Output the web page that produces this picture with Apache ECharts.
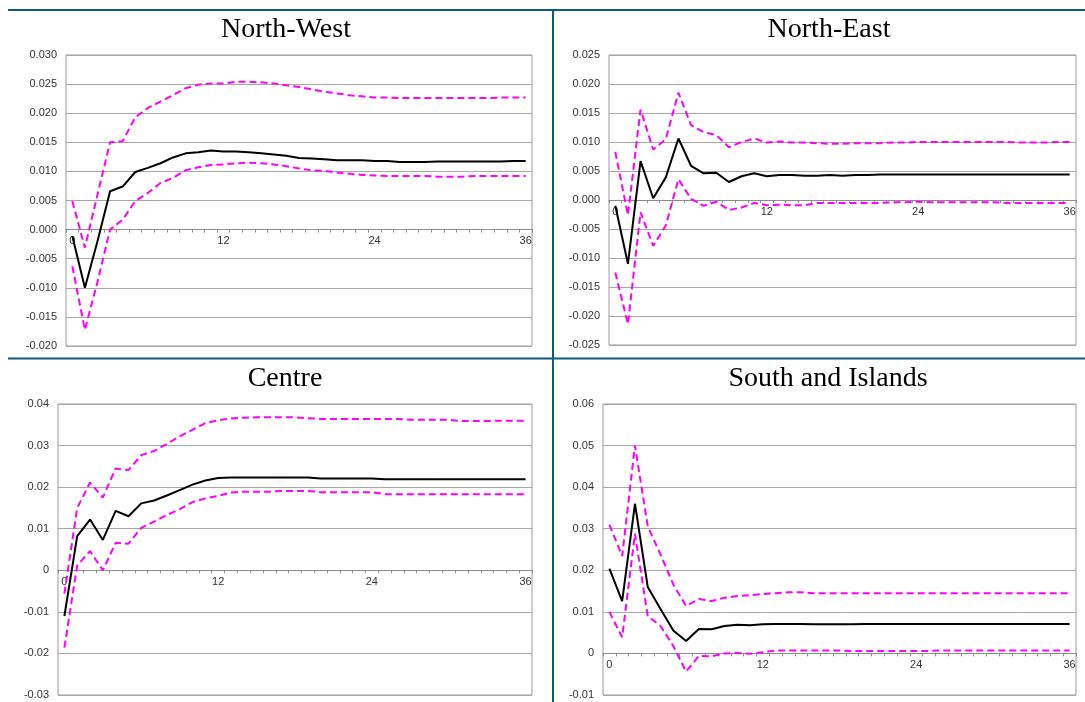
<!DOCTYPE html>
<html>
<head>
<meta charset="utf-8">
<script src="https://cdn.jsdelivr.net/npm/echarts@6/dist/echarts.min.js"></script>
<style>
html,body{margin:0;padding:0;background:#fff;}
#chart{width:1085px;height:702px;}
</style>
</head>
<body>
<div id="chart"></div>
<script>
// Horizon (months) categories
const horizons = ['0','1','2','3','4','5','6','7','8','9','10','11','12','13','14','15','16','17','18','19','20','21','22','23','24','25','26','27','28','29','30','31','32','33','34','35','36'];

const panelTitles = ['North-West', 'North-East', 'Centre', 'South and Islands'];

// North-West
const nwIrf   = [-0.0011,-0.0100,-0.0020,0.0066,0.0074,0.0099,0.0106,0.0114,0.0124,0.0131,0.0133,0.0136,0.0134,0.0134,0.0133,0.0131,0.0129,0.0127,0.0123,0.0122,0.0121,0.0119,0.0119,0.0119,0.0118,0.0118,0.0116,0.0116,0.0116,0.0117,0.0117,0.0117,0.0117,0.0117,0.0117,0.0118,0.0118];
const nwUpper = [0.0049,-0.0031,0.0060,0.0150,0.0152,0.0193,0.0209,0.0220,0.0231,0.0243,0.0249,0.0251,0.0251,0.0254,0.0254,0.0253,0.0251,0.0248,0.0245,0.0241,0.0237,0.0234,0.0231,0.0229,0.0227,0.0227,0.0226,0.0226,0.0226,0.0226,0.0226,0.0226,0.0226,0.0226,0.0227,0.0227,0.0227];
const nwLower = [-0.0063,-0.0172,-0.0090,0.0000,0.0017,0.0049,0.0063,0.0080,0.0089,0.0102,0.0107,0.0111,0.0112,0.0114,0.0115,0.0114,0.0112,0.0109,0.0105,0.0102,0.0101,0.0098,0.0096,0.0094,0.0093,0.0092,0.0092,0.0092,0.0092,0.0091,0.0091,0.0091,0.0092,0.0092,0.0092,0.0092,0.0092];

// North-East
const neIrf   = [-0.0010,-0.0110,0.0067,0.0003,0.0039,0.0106,0.0059,0.0046,0.0047,0.0031,0.0041,0.0046,0.0041,0.0043,0.0043,0.0042,0.0042,0.0043,0.0042,0.0043,0.0043,0.0044,0.0044,0.0044,0.0044,0.0044,0.0044,0.0044,0.0044,0.0044,0.0044,0.0044,0.0044,0.0044,0.0044,0.0044,0.0044];
const neUpper = [0.0083,-0.0026,0.0156,0.0087,0.0105,0.0185,0.0129,0.0117,0.0112,0.0091,0.0100,0.0106,0.0099,0.0101,0.0099,0.0099,0.0098,0.0097,0.0097,0.0098,0.0098,0.0098,0.0099,0.0099,0.0100,0.0100,0.0100,0.0100,0.0100,0.0100,0.0100,0.0100,0.0099,0.0099,0.0099,0.0100,0.0100];
const neLower = [-0.0125,-0.0214,-0.0021,-0.0079,-0.0044,0.0036,0.0002,-0.0010,-0.0003,-0.0017,-0.0013,-0.0005,-0.0009,-0.0008,-0.0009,-0.0009,-0.0005,-0.0005,-0.0005,-0.0005,-0.0005,-0.0005,-0.0004,-0.0004,-0.0003,-0.0004,-0.0004,-0.0004,-0.0004,-0.0004,-0.0004,-0.0005,-0.0005,-0.0005,-0.0005,-0.0005,-0.0005];

// Centre
const ceIrf   = [-0.0110,0.0082,0.0122,0.0073,0.0143,0.0130,0.0161,0.0168,0.0180,0.0193,0.0206,0.0216,0.0222,0.0223,0.0223,0.0223,0.0223,0.0223,0.0223,0.0223,0.0221,0.0221,0.0221,0.0221,0.0221,0.0219,0.0219,0.0219,0.0219,0.0219,0.0219,0.0219,0.0219,0.0219,0.0219,0.0219,0.0219];
const ceUpper = [-0.0056,0.0150,0.0211,0.0175,0.0245,0.0241,0.0277,0.0287,0.0304,0.0322,0.0338,0.0354,0.0361,0.0365,0.0367,0.0368,0.0368,0.0368,0.0368,0.0366,0.0364,0.0364,0.0364,0.0364,0.0364,0.0364,0.0364,0.0362,0.0362,0.0362,0.0362,0.0359,0.0359,0.0359,0.0360,0.0360,0.0360];
const ceLower = [-0.0186,0.0012,0.0046,0.0000,0.0066,0.0064,0.0102,0.0117,0.0133,0.0147,0.0164,0.0173,0.0179,0.0187,0.0189,0.0189,0.0189,0.0191,0.0191,0.0191,0.0188,0.0188,0.0188,0.0188,0.0188,0.0183,0.0183,0.0183,0.0183,0.0183,0.0183,0.0183,0.0183,0.0183,0.0183,0.0183,0.0183];

// South and Islands
const siIrf   = [0.0204,0.0126,0.0360,0.0160,0.0107,0.0055,0.0030,0.0059,0.0058,0.0066,0.0069,0.0068,0.0070,0.0071,0.0071,0.0071,0.0070,0.0070,0.0070,0.0070,0.0071,0.0071,0.0071,0.0071,0.0071,0.0071,0.0071,0.0071,0.0071,0.0071,0.0071,0.0071,0.0071,0.0071,0.0071,0.0071,0.0071];
const siUpper = [0.0310,0.0234,0.0500,0.0306,0.0238,0.0166,0.0114,0.0131,0.0126,0.0134,0.0138,0.0140,0.0143,0.0145,0.0147,0.0147,0.0145,0.0145,0.0145,0.0145,0.0145,0.0145,0.0145,0.0145,0.0145,0.0145,0.0145,0.0145,0.0145,0.0145,0.0145,0.0145,0.0145,0.0145,0.0145,0.0145,0.0145];
const siLower = [0.0100,0.0039,0.0288,0.0090,0.0066,0.0018,-0.0044,-0.0006,-0.0007,0.0000,0.0001,-0.0001,0.0003,0.0007,0.0007,0.0007,0.0007,0.0007,0.0007,0.0006,0.0006,0.0006,0.0006,0.0006,0.0006,0.0006,0.0007,0.0007,0.0007,0.0007,0.0007,0.0007,0.0007,0.0007,0.0007,0.0007,0.0007];

// Y-axis scales per panel [min, max, interval]
const yScales = [[-0.020,0.030,0.005],[-0.025,0.025,0.005],[-0.03,0.04,0.01],[-0.01,0.06,0.01]];
const yDecimals = [3,3,2,2];

const panels = [
  [nwIrf, nwUpper, nwLower],
  [neIrf, neUpper, neLower],
  [ceIrf, ceUpper, ceLower],
  [siIrf, siUpper, siLower]
];

const gridBoxes = [
  {left:66, top:55, width:466, height:291},
  {left:609, top:55, width:467, height:290},
  {left:58, top:404, width:474, height:291},
  {left:603, top:404, width:473, height:291}
];
const titleCenters = [[281,11],[824,11],[280,360],[823,360]];

const chart = echarts.init(document.getElementById('chart'), null, {renderer:'canvas'});

const grids = [], xAxes = [], yAxes = [], series = [], titles = [];
panels.forEach((p, k) => {
  const g = gridBoxes[k];
  grids.push(Object.assign({show:true, borderColor:'#9a9a9a', borderWidth:1, backgroundColor:'#fff', containLabel:false}, g));
  titles.push({
    text: panelTitles[k], left: titleCenters[k][0], top: titleCenters[k][1], textAlign:'center',
    textStyle:{fontFamily:'Liberation Serif', fontSize:28, fontWeight:'normal', color:'#000'}
  });
  // place the category axis on the zero line of the value axis
  const zeroOffset = -g.height * (0 - yScales[k][0]) / (yScales[k][1] - yScales[k][0]);
  xAxes.push({
    type:'category', gridIndex:k, data:horizons, boundaryGap:true, position:'bottom', offset:zeroOffset,
    axisLine:{show:true, onZero:false, lineStyle:{color:'#8c8c8c', width:1}},
    axisTick:{show:true, interval:0, length:3, lineStyle:{color:'#8c8c8c'}},
    axisLabel:{interval:11, margin:6, fontFamily:'Liberation Sans', fontSize:11, color:'#333'},
    splitLine:{show:false}
  });
  const d = yDecimals[k];
  yAxes.push({
    type:'value', gridIndex:k, min:yScales[k][0], max:yScales[k][1], interval:yScales[k][2],
    axisLine:{show:false}, axisTick:{show:false},
    axisLabel:{margin:9, fontFamily:'Liberation Sans', fontSize:11, color:'#333',
      formatter: v => (d === 2 && Math.abs(v) < 1e-9) ? '0' : (Math.abs(v) < 1e-9 ? (0).toFixed(d) : v.toFixed(d))},
    splitLine:{show:true, lineStyle:{color:'#a6a6a6', width:1}}
  });
  const common = {type:'line', xAxisIndex:k, yAxisIndex:k, symbol:'none', smooth:false, silent:true};
  series.push(Object.assign({}, common, {name:'upper', data:p[1], lineStyle:{color:'#ff00ff', width:2, type:[7,4]}, z:3}));
  series.push(Object.assign({}, common, {name:'lower', data:p[2], lineStyle:{color:'#ff00ff', width:2, type:[7,4]}, z:3}));
  series.push(Object.assign({}, common, {name:'irf', data:p[0], lineStyle:{color:'#000', width:2, type:'solid'}, z:4}));
});

const sepColor = '#0d5a7f';
chart.setOption({
  animation:false,
  backgroundColor:'#fff',
  title: titles,
  grid: grids,
  xAxis: xAxes,
  yAxis: yAxes,
  series: series,
  graphic: [
    {type:'line', shape:{x1:8, y1:10, x2:1085, y2:10}, style:{stroke:sepColor, lineWidth:2}},
    {type:'line', shape:{x1:8, y1:358.5, x2:1085, y2:358.5}, style:{stroke:sepColor, lineWidth:2}},
    {type:'line', shape:{x1:553, y1:10, x2:553, y2:702}, style:{stroke:sepColor, lineWidth:2}}
  ]
});
</script>
</body>
</html>
